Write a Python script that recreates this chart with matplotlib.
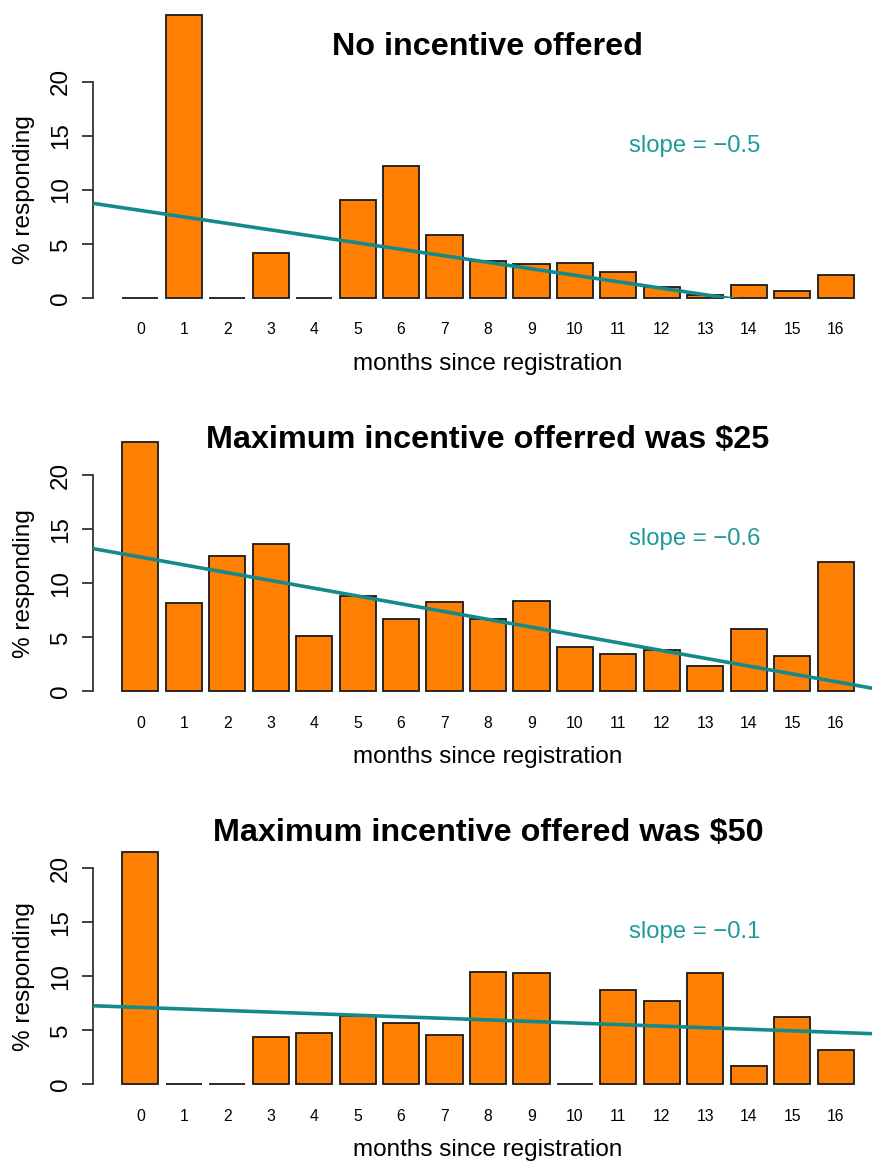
import matplotlib
matplotlib.use("Agg")
import matplotlib.pyplot as plt
import matplotlib.transforms as mtransforms
import numpy as np

plt.rcParams["font.family"] = ["Liberation Sans", "DejaVu Sans"]

months = list(range(17))

titles = [
    "No incentive offered",
    "Maximum incentive offerred was $25",
    "Maximum incentive offered was $50",
]

pct_none = [0, 26.2, 0, 4.13, 0, 9.06, 12.2, 5.82, 3.42, 3.17, 3.2, 2.37, 0.98, 0.3, 1.17, 0.65, 2.15]
pct_25 = [23.1, 8.16, 12.49, 13.64, 5.13, 8.78, 6.68, 8.26, 6.68, 8.35, 4.11, 3.49, 3.86, 2.32, 5.81, 3.25, 11.93]
pct_50 = [21.45, 0, 0, 4.39, 4.74, 6.28, 5.72, 4.61, 10.43, 10.33, 0, 8.73, 7.71, 10.27, 1.70, 6.22, 3.16]

# fitted trend lines, in barplot units (bar width 1, gap 0.2)
intercepts = [8.45, 12.84, 7.20]
slopes = [-0.5, -0.6, -0.12]

yticks = [0, 5, 10, 15, 20]

BAR = "#FF7F00"
TEAL = "#148A8A"
TEAL_TXT = "#1E9A9A"

W, H = 872, 1162
fig = plt.figure(figsize=(W / 100, H / 100), dpi=100)

bottoms_px = [298, 691.4, 1084.4]
plot_h = 216.3
left_px, right_px = 93, 883

# barplot-style x positions
x = 0.7 + 1.2 * np.array(months)
xlim = (-0.608, 21.208)

for k, vals in enumerate([pct_none, pct_25, pct_50]):
    b = bottoms_px[k]
    ax = fig.add_axes([left_px / W, 1 - b / H, (right_px - left_px) / W, plot_h / H])
    ax.set_xlim(*xlim)
    ax.set_ylim(0, 20)

    ax.bar(x, vals, width=1.0, color=BAR, edgecolor="#1a1a1a", linewidth=1.3,
           clip_on=False, zorder=2)

    xx = np.array(xlim)
    ax.plot(xx, intercepts[k] + slopes[k] * xx, color=TEAL, lw=2.6, zorder=3,
            solid_capstyle="butt")

    ax.text(16.0, 14.05, f"slope = \u2212{abs(slopes[k]):.1f}", color=TEAL_TXT,
            fontsize=17.2, ha="center", va="center")

    for s in ["top", "right", "bottom"]:
        ax.spines[s].set_visible(False)
    ax.spines["left"].set_bounds(0, 20)
    ax.spines["left"].set_linewidth(1.2)
    ax.spines["left"].set_color("#222222")

    ax.set_yticks(yticks)
    ax.set_yticklabels([str(v) for v in yticks], rotation=90, va="center",
                       fontsize=17.4)
    ax.tick_params(axis="y", length=8, width=1.2, pad=7, color="#222222")

    ax.set_xticks(x)
    ax.set_xticklabels([str(m) for m in months], fontsize=11.3)
    ax.tick_params(axis="x", length=0, pad=17.5)

    ax.set_title(titles[k], fontsize=23.3, fontweight="bold", pad=19.5)

    off = mtransforms.ScaledTranslation(0, -66 / 100, fig.dpi_scale_trans)
    ax.text(0.5, 0, "months since registration", transform=ax.transAxes + off,
            ha="center", va="center", fontsize=17.5)

    offy = mtransforms.ScaledTranslation(-69 / 100, 0, fig.dpi_scale_trans)
    ax.text(0, 0.5, "% responding", transform=ax.transAxes + offy,
            ha="center", va="center", rotation=90, fontsize=17.6)

fig.savefig("out.png", dpi=100)
